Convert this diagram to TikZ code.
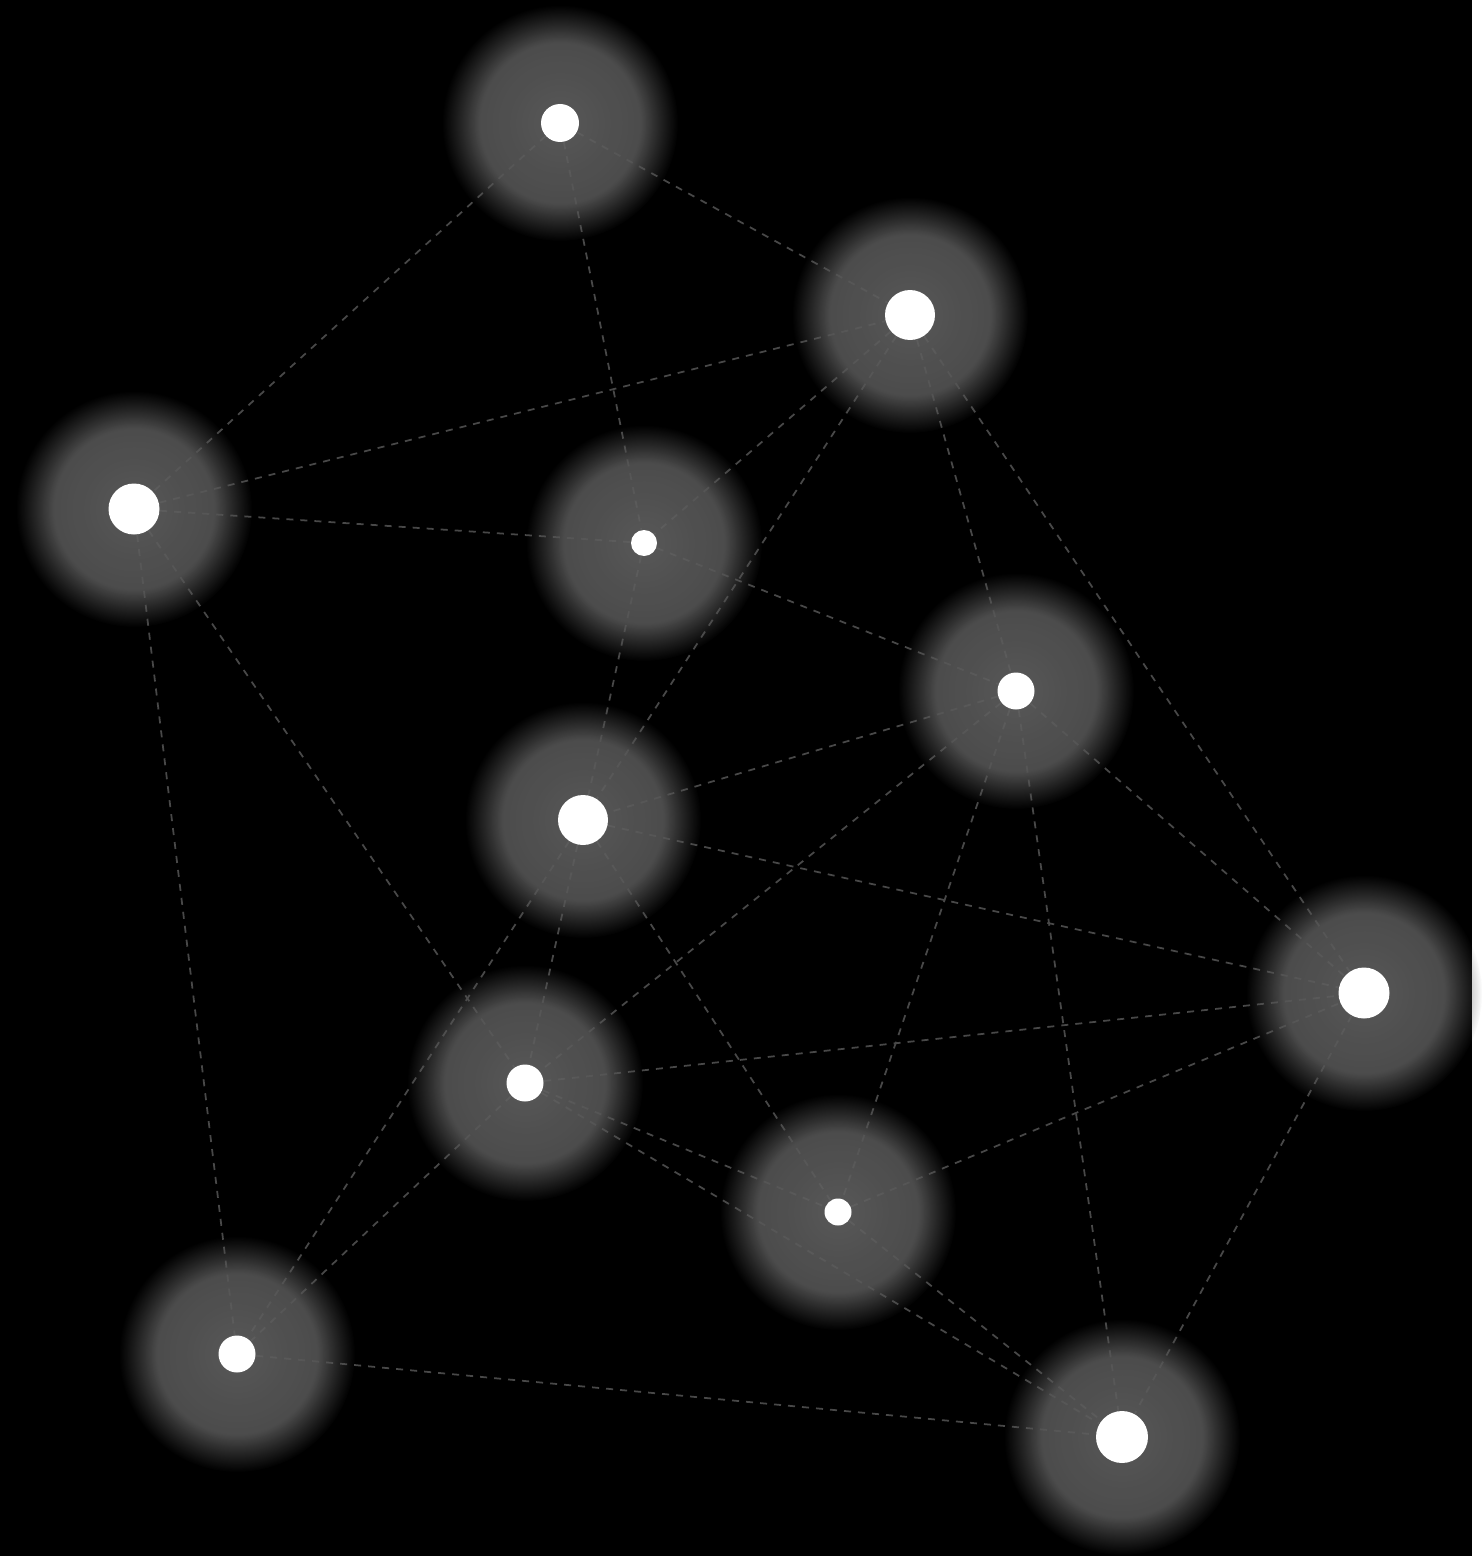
\documentclass[tikz,border=0pt]{standalone}
\usetikzlibrary{fadings}

\definecolor{haloin}{RGB}{100,100,100}
\definecolor{haloout}{RGB}{80,80,80}
\definecolor{linkgray}{RGB}{72,72,72}

% soft glow: solid core, fuzzy rim
\pgfdeclareradialshading{glowshade}{\pgfpointorigin}{color(0bp)=(pgftransparent!0); color(17bp)=(pgftransparent!0); color(25bp)=(pgftransparent!100); color(50bp)=(pgftransparent!100)}
\pgfdeclarefading{glowfade}{\pgfuseshading{glowshade}}

\pgfdeclarelayer{background}
\pgfsetlayers{background,main}

\begin{document}
\begin{tikzpicture}[
    dot/.style={circle, fill=white, draw=none, inner sep=0pt},
    halo/.style={inner color=haloin, outer color=haloout, fill opacity=0.88, path fading=glowfade},
    link/.style={draw=linkgray, line width=0.5pt, dash pattern=on 2pt off 2pt}
]

% Stars
\node[dot, minimum size=0.38cm] (top) at (5.60,-1.23) {};
\node[dot, minimum size=0.50cm] (upright) at (9.10,-3.15) {};
\node[dot, minimum size=0.51cm] (left) at (1.34,-5.09) {};
\node[dot, minimum size=0.26cm] (core) at (6.44,-5.43) {};
\node[dot, minimum size=0.37cm] (midright) at (10.16,-6.91) {};
\node[dot, minimum size=0.50cm] (middle) at (5.83,-8.20) {};
\node[dot, minimum size=0.51cm] (farright) at (13.64,-9.93) {};
\node[dot, minimum size=0.37cm] (lowmid) at (5.25,-10.83) {};
\node[dot, minimum size=0.27cm] (lowright) at (8.38,-12.12) {};
\node[dot, minimum size=0.37cm] (bottomleft) at (2.37,-13.54) {};
\node[dot, minimum size=0.52cm] (bottomright) at (11.22,-14.37) {};

\begin{pgfonlayer}{background}
\fill[black] (0,0) rectangle (14.72,-15.56);

% Links
\draw[link] (top) -- (upright);
\draw[link] (top) -- (left);
\draw[link] (top) -- (core);
\draw[link] (left) -- (upright);
\draw[link] (left) -- (core);
\draw[link] (left) -- (bottomleft);
\draw[link] (left) -- (lowmid);
\draw[link] (upright) -- (core);
\draw[link] (upright) -- (middle);
\draw[link] (upright) -- (midright);
\draw[link] (upright) -- (farright);
\draw[link] (core) -- (midright);
\draw[link] (core) -- (middle);
\draw[link] (midright) -- (middle);
\draw[link] (midright) -- (lowmid);
\draw[link] (midright) -- (lowright);
\draw[link] (midright) -- (bottomright);
\draw[link] (midright) -- (farright);
\draw[link] (middle) -- (farright);
\draw[link] (middle) -- (lowmid);
\draw[link] (middle) -- (lowright);
\draw[link] (middle) -- (bottomleft);
\draw[link] (lowmid) -- (farright);
\draw[link] (lowmid) -- (lowright);
\draw[link] (lowmid) -- (bottomright);
\draw[link] (lowmid) -- (bottomleft);
\draw[link] (lowright) -- (farright);
\draw[link] (lowright) -- (bottomright);
\draw[link] (bottomleft) -- (bottomright);
\draw[link] (farright) -- (bottomright);

% Glow round each star
\foreach \s in {top,upright,left,core,midright,middle,farright,lowmid,lowright,bottomleft,bottomright}
    \shade[halo] (\s) circle (1.18);
\end{pgfonlayer}

\end{tikzpicture}
\end{document}
